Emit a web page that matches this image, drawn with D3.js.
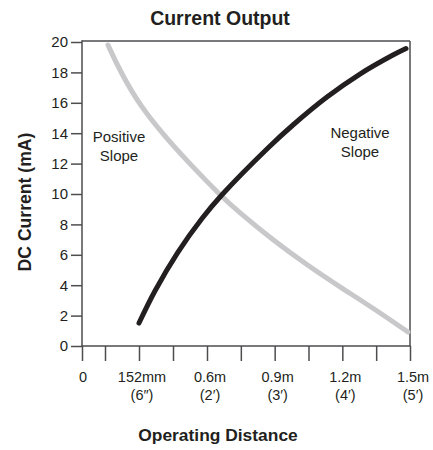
<!DOCTYPE html>
<html>
<head>
<meta charset="utf-8">
<script src="https://cdn.jsdelivr.net/npm/d3@7"></script>
<style>
  html, body { margin: 0; padding: 0; background: #fff; }
  svg { display: block; }
  text { font-family: "Liberation Sans", Arial, Helvetica, sans-serif; fill: #231f20; }
</style>
</head>
<body>
<svg id="chart" width="433" height="450"></svg>
<script>
// ---- data ----
const title = "Current Output";
const xTitle = "Operating Distance";
const yTitle = "DC Current (mA)";

// distance (m), current (mA)
const negativeSlopeX = [0.152, 0.257, 0.409, 0.567, 0.6665, 0.8704, 0.9812, 1.1319, 1.2782, 1.4245, 1.4823];
const negativeSlopeY = [1.51, 3.62, 6.18, 8.39, 9.95, 13.03, 14.54, 16.38, 17.89, 19.14, 19.57];

const positiveSlopeX = [0.0827, 0.1095, 0.1586, 0.3365, 0.488, 0.6665, 0.7463, 0.8926, 1.0434, 1.1896, 1.3359, 1.4911];
const positiveSlopeY = [19.8, 18.09, 15.79, 13.62, 11.97, 9.8, 8.75, 6.97, 5.33, 3.88, 2.5, 0.92];

const xTickValues = [0, 0.152, 0.6, 0.9, 1.2, 1.5];
const xTickLabels1 = ["0", "152mm", "0.6m", "0.9m", "1.2m", "1.5m"];
const xTickLabels2 = ["", "(6\u2033)", "(2\u2032)", "(3\u2032)", "(4\u2032)", "(5\u2032)"];
const xMinorTicks = [0.076, 0.376, 0.75, 1.05, 1.35];
const yTickValues = [0, 2, 4, 6, 8, 10, 12, 14, 16, 18, 20];

// ---- layout ----
const svg = d3.select("#chart");
const mLeft = 82, mRight = 410, mTop = 42, mBottom = 346;

// schematic (non-uniform) distance axis
const x = d3.scaleLinear()
  .domain([0, 0.076, 0.152, 0.376, 0.6, 1.5])
  .range([mLeft, 105, 139, 173, 207, mRight]);
const y = d3.scaleLinear().domain([0, 20]).range([mBottom, mTop]);

const frameColor = "#4d4d4f";

// frame top and right
svg.append("line").attr("x1", mLeft).attr("x2", mRight).attr("y1", mTop - 1).attr("y2", mTop - 1)
  .attr("stroke", frameColor).attr("stroke-width", 1.5);
svg.append("line").attr("x1", mRight).attr("x2", mRight).attr("y1", mTop - 1).attr("y2", mBottom)
  .attr("stroke", frameColor).attr("stroke-width", 1.5);

// y axis
const yAxis = d3.axisLeft(y).tickValues(yTickValues).tickSize(11).tickPadding(3).tickSizeOuter(0);
const gy = svg.append("g").attr("transform", `translate(${mLeft},0)`).call(yAxis);
gy.attr("font-family", null).attr("font-size", 15);
gy.select(".domain").attr("stroke", frameColor).attr("stroke-width", 1.5)
  .attr("d", `M0,${mTop - 1.75}V${mBottom}`);
gy.selectAll(".tick line").attr("stroke", frameColor).attr("stroke-width", 1.5);
gy.selectAll(".tick text").attr("fill", "#231f20");

// x axis (all ticks)
const allXTicks = xTickValues.concat(xMinorTicks).sort(d3.ascending);
const xAxis = d3.axisBottom(x).tickValues(allXTicks).tickSize(15).tickFormat("").tickSizeOuter(0);
const gx = svg.append("g").attr("transform", `translate(0,${mBottom})`).call(xAxis);
gx.select(".domain").attr("stroke", frameColor).attr("stroke-width", 1.5)
  .attr("d", `M${mLeft - 0.75},0H${mRight + 0.75}`);
gx.selectAll(".tick line").attr("stroke", frameColor).attr("stroke-width", 1.5);

// x tick labels (two lines)
const xl = svg.append("g");
xTickValues.forEach((v, i) => {
  const cx = x(v) + (i === 0 ? 1 : 3);
  const t = xl.append("text").attr("text-anchor", "middle").attr("font-size", 14.5)
    .attr("x", cx).attr("y", 382);
  t.append("tspan").attr("x", cx).text(xTickLabels1[i]);
  if (xTickLabels2[i]) t.append("tspan").attr("x", cx).attr("dy", 18).text(xTickLabels2[i]);
});

// curves
const line = d3.line().x(d => x(d[0])).y(d => y(d[1])).curve(d3.curveCatmullRom.alpha(0.5));
const posData = positiveSlopeX.map((v, i) => [v, positiveSlopeY[i]]);
const negData = negativeSlopeX.map((v, i) => [v, negativeSlopeY[i]]);

svg.append("path").datum(posData).attr("d", line.curve(d3.curveBasis))
  .attr("fill", "none").attr("stroke", "#c8c8ca").attr("stroke-width", 5).attr("stroke-linecap", "round");
svg.append("path").datum(negData).attr("d", line.curve(d3.curveCatmullRom.alpha(0.5)))
  .attr("fill", "none").attr("stroke", "#231f20").attr("stroke-width", 5).attr("stroke-linecap", "round");

// annotations
function twoLine(cx, y1, l1, l2) {
  const t = svg.append("text").attr("text-anchor", "middle").attr("font-size", 15).attr("y", y1);
  t.append("tspan").attr("x", cx).text(l1);
  t.append("tspan").attr("x", cx).attr("dy", 19).text(l2);
}
twoLine(119, 142, "Positive", "Slope");
twoLine(360, 138, "Negative", "Slope");

// titles
svg.append("text").attr("x", 220).attr("y", 25).attr("text-anchor", "middle")
  .attr("font-size", 19.5).attr("font-weight", "bold").text(title);
svg.append("text").attr("x", 218).attr("y", 441).attr("text-anchor", "middle")
  .attr("font-size", 17.4).attr("font-weight", "bold").text(xTitle);
svg.append("text").attr("transform", "translate(31,202) rotate(-90)").attr("text-anchor", "middle")
  .attr("font-size", 17.6).attr("font-weight", "bold").text(yTitle);
</script>
</body>
</html>
